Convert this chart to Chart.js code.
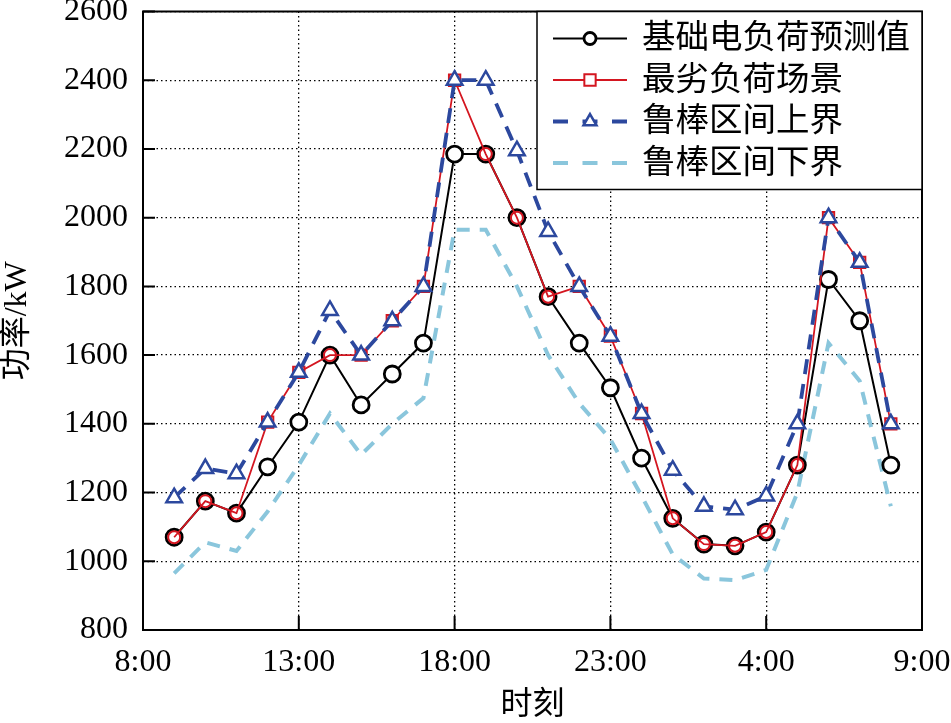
<html>
    <head>
        <meta charset="UTF-8">
        <meta name="viewport" content="width=device-width, initial-scale=1.0">
        <title>负荷曲线</title>

        <script src="https://cdn.jsdelivr.net/npm/chart.js"></script>

        <style>
            body {
                margin: 0;
                background: #ffffff;
            }

            .chart_container {
                width: 951px;
                height: 723px;
                background: #ffffff;
            }
        </style>
    </head>

    <body>
        <div class='chart_container'>
            <canvas id='loadChart'></canvas>
        </div>

        <script>
            // hour of day, 9:00 today to 8:00 tomorrow (24 = 0:00)
            const hours = [9, 10, 11, 12, 13, 14, 15, 16, 17, 18, 19, 20, 21, 22, 23, 24, 25, 26, 27, 28, 29, 30, 31, 32];

            const baseLoad = [1070, 1175, 1140, 1275, 1405, 1600, 1455, 1545, 1635, 2185, 2185, 2000,
                              1770, 1635, 1505, 1300, 1125, 1050, 1045, 1085, 1280, 1820, 1700, 1280];
            const worstLoad = [1070, 1175, 1140, 1405, 1550, 1600, 1600, 1700, 1800, 2400, 2185, 2000,
                               1770, 1800, 1655, 1430, 1125, 1050, 1045, 1085, 1280, 2000, 1870, 1400];
            const upperBound = [1185, 1270, 1255, 1405, 1550, 1730, 1600, 1700, 1800, 2400, 2400, 2195,
                                1960, 1800, 1655, 1430, 1265, 1160, 1150, 1190, 1400, 2000, 1870, 1400];
            const lowerBound = [965, 1055, 1030, 1145, 1280, 1430, 1310, 1400, 1475, 1965, 1965, 1800,
                                1600, 1460, 1355, 1190, 1020, 950, 945, 975, 1200, 1635, 1525, 1160];

            const seriesNames = ['基础电负荷预测值', '最劣负荷场景', '鲁棒区间上界', '鲁棒区间下界'];

            const xTickValues = [8, 13, 18, 23, 28, 33];
            const xTickLabels = ['8:00', '13:00', '18:00', '23:00', '4:00', '9:00'];
            const yMin = 800;
            const yMax = 2600;
            const yStep = 200;

            const serif = "'Liberation Serif', 'Noto Sans CJK SC'";

            function toPoints(values) {
                return hours.map((h, i) => ({ x: h, y: values[i] }));
            }

            // plot frame plus the short inward tick marks
            const frameTicks = {
                id: 'frameTicks',
                beforeDatasetsDraw(chart) {
                    const { ctx, chartArea, scales } = chart;
                    ctx.save();
                    ctx.strokeStyle = '#000';
                    ctx.lineWidth = 2;
                    ctx.setLineDash([]);
                    ctx.strokeRect(chartArea.left, chartArea.top,
                                   chartArea.right - chartArea.left, chartArea.bottom - chartArea.top);
                    ctx.beginPath();
                    scales.y.ticks.forEach(t => {
                        const py = scales.y.getPixelForValue(t.value);
                        ctx.moveTo(chartArea.left, py);
                        ctx.lineTo(chartArea.left + 12, py);
                    });
                    scales.x.ticks.forEach(t => {
                        const px = scales.x.getPixelForValue(t.value);
                        ctx.moveTo(px, chartArea.bottom);
                        ctx.lineTo(px, chartArea.bottom - 14);
                    });
                    ctx.stroke();
                    ctx.restore();
                }
            };

            // boxed legend in the upper right corner of the plot
            const legendBox = {
                id: 'legendBox',
                afterDraw(chart) {
                    const { ctx, chartArea } = chart;
                    const w = 385;
                    const h = 178;
                    const x0 = chartArea.right - w;
                    const y0 = chartArea.top;
                    ctx.save();
                    ctx.fillStyle = '#fff';
                    ctx.fillRect(x0, y0, w, h);
                    ctx.strokeStyle = '#000';
                    ctx.lineWidth = 1.5;
                    ctx.setLineDash([]);
                    ctx.strokeRect(x0, y0, w, h);

                    chart.data.datasets.forEach((ds, i) => {
                        const cy = y0 + 27 + i * 41.5;
                        ctx.strokeStyle = ds.borderColor;
                        ctx.lineWidth = ds.borderWidth;
                        ctx.setLineDash(ds.borderDash ? [15, 14.5] : []);
                        ctx.beginPath();
                        ctx.moveTo(x0 + 16, cy);
                        ctx.lineTo(x0 + 90, cy);
                        ctx.stroke();
                        ctx.setLineDash([]);
                        if (ds.legendMarker) {
                            ctx.strokeStyle = ds.pointBorderColor;
                            ctx.fillStyle = '#fff';
                            ctx.lineWidth = ds.pointBorderWidth;
                            Chart.helpers.drawPoint(ctx, {
                                pointStyle: ds.legendMarker,
                                radius: ds.legendRadius,
                                rotation: 0,
                                borderWidth: ds.pointBorderWidth
                            }, x0 + 53, cy);
                        }
                        ctx.fillStyle = '#000';
                        ctx.font = "33.5px 'Liberation Serif', 'Noto Sans CJK SC'";
                        ctx.textAlign = 'left';
                        ctx.textBaseline = 'middle';
                        ctx.fillText(ds.label, x0 + 105, cy + 1);
                    });
                    ctx.restore();
                }
            };

            const sameAsBase = c => worstLoad[c.dataIndex] === baseLoad[c.dataIndex];

            const data = {
                datasets: [
                    {
                        label: seriesNames[0],
                        data: toPoints(baseLoad),
                        borderColor: '#000000',
                        borderWidth: 2,
                        pointStyle: 'circle',
                        pointRadius: 8,
                        pointBorderWidth: 2.8,
                        pointBorderColor: '#000000',
                        pointBackgroundColor: '#ffffff',
                        legendMarker: 'circle',
                        legendRadius: 6,
                        order: 3
                    },
                    {
                        label: seriesNames[1],
                        data: toPoints(worstLoad),
                        borderColor: 'rgb(212, 22, 32)',
                        borderWidth: 1.8,
                        pointStyle: c => sameAsBase(c) ? 'circle' : 'rect',
                        pointRadius: c => sameAsBase(c) ? 6 : 8,
                        pointBorderWidth: 2,
                        pointBorderColor: 'rgb(212, 22, 32)',
                        pointBackgroundColor: 'rgba(255, 255, 255, 0)',
                        legendMarker: 'rect',
                        legendRadius: 8,
                        order: 2
                    },
                    {
                        label: seriesNames[2],
                        data: toPoints(upperBound),
                        borderColor: 'rgb(44, 72, 158)',
                        borderWidth: 3.8,
                        borderDash: [15, 10],
                        pointStyle: 'triangle',
                        pointRadius: 9,
                        pointBorderWidth: 2.5,
                        pointBorderColor: 'rgb(44, 72, 158)',
                        pointBackgroundColor: '#ffffff',
                        legendMarker: 'triangle',
                        legendRadius: 7.5,
                        order: 1
                    },
                    {
                        label: seriesNames[3],
                        data: toPoints(lowerBound),
                        borderColor: 'rgb(138, 198, 220)',
                        borderWidth: 4,
                        borderDash: [13, 10],
                        pointRadius: 0,
                        order: 4
                    }
                ]
            };

            const config = {
                type: 'line',
                data: data,
                options: {
                    responsive: true,
                    maintainAspectRatio: false,
                    animation: false,
                    layout: {
                        padding: { top: 11, right: 29, left: 0, bottom: 0 }
                    },
                    plugins: {
                        legend: { display: false },
                        tooltip: { enabled: false }
                    },
                    elements: {
                        line: { tension: 0 }
                    },
                    scales: {
                        x: {
                            type: 'linear',
                            min: 8,
                            max: 33,
                            afterBuildTicks: scale => {
                                scale.ticks = xTickValues.map(v => ({ value: v }));
                            },
                            afterFit: scale => {
                                scale.height = 93;
                                scale.paddingLeft = 0;
                                scale.paddingRight = 0;
                            },
                            ticks: {
                                callback: (value, index) => xTickLabels[index],
                                color: '#000',
                                padding: 13,
                                maxRotation: 0,
                                font: { family: serif, size: 32 }
                            },
                            grid: {
                                color: '#000',
                                lineWidth: 1.3,
                                drawTicks: false
                            },
                            border: {
                                display: false,
                                dash: [1.5, 3]
                            },
                            title: {
                                display: true,
                                text: '时刻',
                                color: '#000',
                                padding: 0,
                                font: { family: serif, size: 32, lineHeight: 1.1 }
                            }
                        },
                        y: {
                            min: yMin,
                            max: yMax,
                            afterFit: scale => {
                                scale.width = 143;
                                scale.paddingTop = 0;
                                scale.paddingBottom = 0;
                            },
                            ticks: {
                                stepSize: yStep,
                                callback: value => String(value),
                                color: '#000',
                                padding: 15,
                                font: { family: serif, size: 32 }
                            },
                            grid: {
                                color: '#000',
                                lineWidth: 1.3,
                                drawTicks: false
                            },
                            border: {
                                display: false,
                                dash: [1.5, 3]
                            },
                            title: {
                                display: true,
                                text: '功率/kW',
                                color: '#000',
                                padding: 0,
                                font: { family: serif, size: 32, lineHeight: 1.1 }
                            }
                        }
                    }
                },
                plugins: [frameTicks, legendBox]
            };

            new Chart(document.getElementById('loadChart'), config);
        </script>
    </body>
</html>
